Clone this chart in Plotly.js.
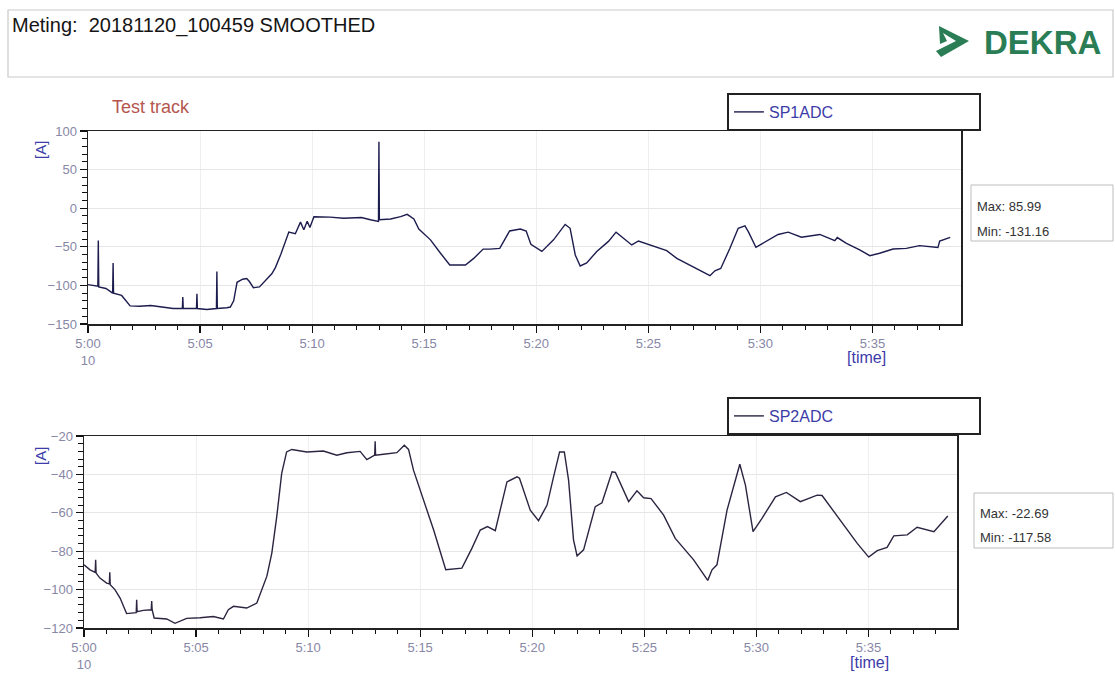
<!DOCTYPE html>
<html>
<head>
<meta charset="utf-8">
<script src="https://cdn.plot.ly/plotly-3.0.1.min.js"></script>
<style>
html,body{margin:0;padding:0;background:#fff;}
#chart{width:1115px;height:673px;}
</style>
</head>
<body>
<div id="chart"></div>
<script>
// ---- data (time in minutes after 5:00) ----
const sp1Time = [
  0, 0.44, 0.46, 0.48, 0.8, 1.10, 1.12, 1.14, 1.5, 1.88,
  2.3, 2.8, 3.3, 3.8, 4.21, 4.23, 4.25, 4.84, 4.86, 4.88,
  5.3, 5.73, 5.75, 5.77, 6.2, 6.35, 6.5, 6.65, 6.9, 7.08,
  7.2, 7.38, 7.65, 7.98, 8.2, 8.36, 8.6, 8.96, 9.25, 9.48,
  9.63, 9.78, 9.9, 10.08, 10.8, 11.4, 12.2, 12.6, 12.96, 12.98,
  13.0, 13.5, 13.95, 14.24, 14.54, 14.76, 15.28, 15.72, 16.14, 16.84,
  17.21, 17.63, 17.93, 18.37, 18.81, 19.29, 19.55, 19.76, 20.25, 20.77,
  21.29, 21.51, 21.74, 21.96, 22.25, 22.7, 22.93, 23.22, 23.56, 23.89,
  24.26, 24.56, 24.93, 25.38, 25.82, 26.27, 26.83, 27.0, 27.75, 27.97,
  28.23, 28.64, 29.01, 29.31, 29.46, 29.8, 30.28, 30.79, 31.24, 31.83,
  32.65, 33.32, 33.43, 33.84, 34.43, 34.88, 35.32, 35.92, 36.51, 37.1,
  37.92, 38.0, 38.47
];
const sp1Values = [
  -99, -101, -42, -102, -104, -110, -71, -110, -113, -126.5,
  -127, -126, -128, -130, -130, -115, -130, -130, -111, -130,
  -131.16, -130, -82, -130, -129, -128, -120, -96, -92, -91,
  -95, -103, -102, -91, -85, -77, -60, -31, -33, -18,
  -28, -17, -25, -11, -11.5, -13, -12, -15, -17, 85.99,
  -15, -14, -11, -8, -14, -27, -41, -58, -73.5, -73.5,
  -65, -53, -53, -52, -29.5, -27, -29.5, -46.7, -56, -41,
  -21, -26, -60.6, -74.8, -71, -56, -50, -43, -31, -39,
  -47.6, -42.5, -46, -50, -55, -65, -73.5, -75.7, -87.4, -81,
  -78, -52, -26, -23, -30.4, -50.6, -43, -34, -31, -37.6,
  -34, -42, -38, -45.5, -54, -61.5, -58.4, -52.8, -52, -48.5,
  -51, -42.5, -37.7
];
const sp2Time = [
  0, 0.27, 0.50, 0.52, 0.54, 0.71, 1.01, 1.13, 1.15, 1.17,
  1.38, 1.61, 1.9, 2.2, 2.33, 2.35, 2.37, 2.65, 3.0, 3.02,
  3.04, 3.13, 3.69, 4.06, 4.58, 5.18, 5.77, 6.22, 6.44, 6.67,
  7.26, 7.71, 7.93, 8.16, 8.38, 8.6, 8.82, 9.04, 9.27, 9.94,
  10.68, 11.28, 11.73, 12.32, 12.62, 12.97, 12.99, 13.01, 13.36, 13.96,
  14.29, 14.48, 14.7, 15.22, 15.6, 16.14, 16.86, 17.31, 17.68, 18.0,
  18.35, 18.87, 19.32, 19.43, 19.91, 20.28, 20.66, 20.95, 21.22, 21.43,
  21.62, 21.84, 22.0, 22.29, 22.81, 23.11, 23.56, 23.71, 24.3, 24.67,
  24.97, 25.3, 25.86, 26.38, 27.02, 27.2, 27.83, 28.02, 28.24, 28.69,
  29.26, 29.51, 29.85, 30.25, 30.85, 31.34, 31.96, 32.71, 32.93, 33.53,
  34.05, 34.5, 35.01, 35.39, 35.83, 36.13, 36.73, 37.17, 37.92, 38.54
];
const sp2Values = [
  -87.1, -89.7, -91, -84.5, -91.4, -94, -96.6, -97, -91, -97.5,
  -100, -104.4, -112.5, -111.9, -112, -105.3, -111.5, -110.8, -110.5, -106,
  -110.5, -114.8, -115.3, -117.58, -115, -114.7, -114, -115.3, -110.5, -108.7,
  -109.6, -107, -100, -93, -81, -62, -39.5, -28.3, -27, -28.3,
  -27.8, -30, -28.7, -28, -32.3, -30, -22.69, -30, -29.5, -28.7,
  -24.8, -27, -37.8, -56, -69, -89.7, -88.8, -78.4, -69, -67.2,
  -69.3, -43.9, -41.3, -42, -58.6, -64.1, -56, -41.3, -28.3, -28.3,
  -43, -74.1, -82.4, -79.3, -56.8, -54.8, -38.7, -39, -54.2, -48.5,
  -52.2, -52.6, -61.2, -73.3, -82.4, -84.5, -95.2, -89.7, -87.1, -58.6,
  -34.7, -45.6, -69.8, -62.9, -51.7, -49.4, -54.2, -50.8, -51, -60.3,
  -69, -75.9, -83.1, -79.7, -78, -72, -71.5, -67.5, -69.8, -61.7
];
const timeTickVals = [0, 5, 10, 15, 20, 25, 30, 35];
const timeTickText = ["5:00<br>10", "5:05", "5:10", "5:15", "5:20", "5:25", "5:30", "5:35"];
const sp1TickVals = [-150, -100, -50, 0, 50, 100];
const sp2TickVals = [-120, -100, -80, -60, -40, -20];
const seriesNames = ["SP1ADC", "SP2ADC"];
const sp1Stats = ["Max: 85.99", "Min: -131.16"];
const sp2Stats = ["Max: -22.69", "Min: -117.58"];
const headerText = "Meting:  20181120_100459 SMOOTHED";
const trackText = "Test track";

// ---- layout helpers (pixel -> paper) ----
const W = 1115, H = 673;
const X = p => p / W;
const Y = p => 1 - p / H;
const FONT = "Liberation Sans, Arial, sans-serif";
const tickCol = "#8787a6";
const blue = "#3c3ca8";

function xAxis(domain, anchor) {
  return {
    domain: domain, anchor: anchor, range: [0, 38.95],
    tickmode: "array", tickvals: timeTickVals, ticktext: timeTickText,
    ticks: "outside", ticklen: 7, tickwidth: 1.2, tickcolor: "#111",
    minor: {dtick: 1, tick0: 0, ticks: "outside", ticklen: 4, tickcolor: "#111", tickwidth: 1, showgrid: false},
    showline: true, linecolor: "#222", linewidth: 1.5, mirror: true,
    showgrid: true, gridcolor: "#efefef", gridwidth: 1,
    zeroline: false,
    tickfont: {family: FONT, size: 13, color: tickCol}
  };
}
function yAxis(domain, anchor, range, vals, minorStep) {
  return {
    domain: domain, anchor: anchor, range: range,
    tickmode: "array", tickvals: vals,
    ticks: "outside", ticklen: 7, tickwidth: 1.2, tickcolor: "#111",
    minor: {dtick: minorStep, tick0: range[0], ticks: "outside", ticklen: 5, tickcolor: "#111", tickwidth: 1, showgrid: false},
    showline: true, linecolor: "#222", linewidth: 1.5, mirror: true,
    showgrid: true, gridcolor: "#e6e6e6", gridwidth: 1,
    zeroline: false,
    tickfont: {family: FONT, size: 13, color: tickCol}
  };
}

const traces = [
  {x: sp1Time, y: sp1Values, xaxis: "x", yaxis: "y", type: "scatter", mode: "lines",
   name: seriesNames[0], legend: "legend",
   line: {color: "#1c1c4e", width: 1.4}},
  {x: sp2Time, y: sp2Values, xaxis: "x2", yaxis: "y2", type: "scatter", mode: "lines",
   name: seriesNames[1], legend: "legend2",
   line: {color: "#2c2440", width: 1.4}}
];

function legendBox(topPx) {
  return {
    x: X(727), y: Y(topPx), xanchor: "left", yanchor: "top",
    orientation: "h", entrywidth: 205, entrywidthmode: "pixels",
    itemwidth: 30,
    bgcolor: "#ffffff", bordercolor: "#222", borderwidth: 2,
    font: {family: FONT, size: 16, color: blue},
    itemclick: false, itemdoubleclick: false
  };
}

// DEKRA arrow logo path
const logoPts = [[939,26],[969,41],[941,57],[936,51],[956,41],[943,33],[947,41],[940,44]];
let logoPath = "M " + logoPts.map(p => X(p[0]).toFixed(5) + "," + Y(p[1]).toFixed(5)).join(" L ") + " Z";

const shapes = [
  {type: "rect", xref: "paper", yref: "paper", x0: X(8), x1: X(1113), y0: Y(77), y1: Y(10),
   line: {color: "#c9c9c9", width: 1.2}, fillcolor: "rgba(0,0,0,0)"},
  {type: "path", xref: "paper", yref: "paper", path: logoPath,
   fillcolor: "#2a7d55", line: {width: 0}},
  {type: "rect", xref: "paper", yref: "paper", x0: X(971), x1: X(1113), y0: Y(241), y1: Y(185),
   line: {color: "#bdbdbd", width: 1}, fillcolor: "#fff"},
  {type: "rect", xref: "paper", yref: "paper", x0: X(974), x1: X(1113), y0: Y(548), y1: Y(493),
   line: {color: "#bdbdbd", width: 1}, fillcolor: "#fff"}
];

function ann(text, px, py, opts) {
  return Object.assign({
    text: text, xref: "paper", yref: "paper", x: X(px), y: Y(py),
    xanchor: "left", yanchor: "middle", showarrow: false,
    font: {family: FONT, size: 13, color: "#333"}
  }, opts || {});
}

const annotations = [
  ann(headerText, 10, 26, {font: {family: FONT, size: 20, color: "#151515"}}),
  ann("DEKRA", 982, 42, {font: {family: FONT, size: 33, color: "#2a7d55", weight: 700}}),
  ann(trackText, 110, 107, {font: {family: FONT, size: 18, color: "#b5564e"}}),
  ann("[A]", 40, 150, {xanchor: "center", textangle: -90, font: {family: FONT, size: 15, color: blue}}),
  ann("[A]", 40, 456, {xanchor: "center", textangle: -90, font: {family: FONT, size: 15, color: blue}}),
  ann("[time]", 866, 357, {xanchor: "center", font: {family: FONT, size: 16, color: blue}}),
  ann("[time]", 869, 662, {xanchor: "center", font: {family: FONT, size: 16, color: blue}}),
  ann(sp1Stats[0], 975, 206, {font: {family: FONT, size: 13, color: "#333"}}),
  ann(sp1Stats[1], 975, 231, {font: {family: FONT, size: 13, color: "#333"}}),
  ann(sp2Stats[0], 978, 513, {font: {family: FONT, size: 13, color: "#333"}}),
  ann(sp2Stats[1], 978, 537, {font: {family: FONT, size: 13, color: "#333"}})
];

const layout = {
  width: W, height: H,
  margin: {l: 0, r: 0, t: 0, b: 0},
  paper_bgcolor: "#ffffff", plot_bgcolor: "#ffffff",
  font: {family: FONT},
  showlegend: true,
  legend: legendBox(93),
  legend2: legendBox(397),
  xaxis: xAxis([X(88), X(961)], "y"),
  yaxis: yAxis([Y(324), Y(131)], "x", [-150, 100], sp1TickVals, 10),
  xaxis2: xAxis([X(84), X(957)], "y2"),
  yaxis2: yAxis([Y(628), Y(436)], "x2", [-120, -20], sp2TickVals, 4),
  shapes: shapes,
  annotations: annotations
};

Plotly.newPlot("chart", traces, layout, {displayModeBar: false, staticPlot: true});
</script>
</body>
</html>
